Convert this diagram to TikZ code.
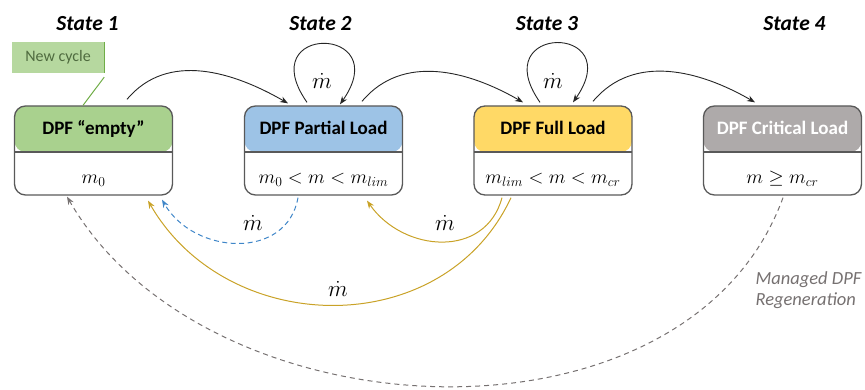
\RequirePackage{fix-cm}
\documentclass[tikz,border=0pt]{standalone}
\usepackage[no-math]{fontspec}
\setmainfont{Carlito}
\usetikzlibrary{arrows.meta}
\definecolor{hgreen}{HTML}{A9D18E}
\definecolor{hblue}{HTML}{9DC3E6}
\definecolor{hyellow}{HTML}{FFD966}
\definecolor{hgray}{HTML}{AEAAAA}
\definecolor{rim}{HTML}{595959}
\definecolor{gold}{HTML}{C9A227}
\definecolor{dblue}{HTML}{3F86C8}
\definecolor{dgray}{HTML}{767171}
\definecolor{cyctext}{HTML}{4F6B3F}
\definecolor{cycbar}{HTML}{70AD47}
\begin{document}
\begin{tikzpicture}[x=1pt, y=1pt,
    statebox/.style={draw=rim, line width=1.3pt, rounded corners=11pt,
      minimum width=158pt, minimum height=89pt,
      path picture={
        \fill[#1] (path picture bounding box.north west) rectangle ([yshift=-46pt]path picture bounding box.north east);
        \draw[rim, line width=1.3pt] ([yshift=-46pt]path picture bounding box.north west) -- ([yshift=-46pt]path picture bounding box.north east);}},
    headtext/.style={font=\fontsize{19}{22}\selectfont\bfseries, anchor=base},
    formula/.style={font=\fontsize{19.5}{22}\selectfont, anchor=base},
    statetitle/.style={font=\fontsize{21.5}{24}\selectfont\bfseries\itshape, anchor=base},
    mdot/.style={font=\fontsize{23}{26}\selectfont, inner sep=1pt},
    flow/.style={draw=black!85, line width=0.9pt, -{Stealth[length=8pt,width=6pt]}},
    back/.style={line width=1pt, -{Stealth[length=8pt,width=6pt]}}]
  \useasboundingbox (0,0) rectangle (865,390);
  % four states, pixel grid of the original, y up
  \node[statebox=hgreen] (s1) at (93.5,239.5) {};
  \node[statebox=hblue] (s2) at (323.5,239.5) {};
  \node[statebox=hyellow] (s3) at (553,239.5) {};
  \node[statebox=hgray] (s4) at (782.5,239.5) {};
  \node[headtext] (h1) at ([yshift=-29pt]s1.north) {DPF “empty”};
  \node[headtext] (h2) at ([yshift=-29pt]s2.north) {DPF Partial Load};
  \node[headtext] (h3) at ([yshift=-29pt]s3.north) {DPF Full Load};
  \node[headtext, text=white] (h4) at ([yshift=-29pt]s4.north) {DPF Critical Load};
  \node[formula] (f1) at ([yshift=12pt]s1.south) {$m_0$};
  \node[formula] (f2) at ([yshift=12pt]s2.south) {$m_0 < m < m_{lim}$};
  \node[formula] (f3) at ([yshift=12pt]s3.south) {$m_{lim} < m < m_{cr}$};
  \node[formula] (f4) at ([yshift=12pt]s4.south) {$m \geq m_{cr}$};
  \node[statetitle] (t1) at ([xshift=-6pt,yshift=75pt]s1.north) {State 1};
  \node[statetitle] (t2) at ([xshift=-3pt,yshift=75pt]s2.north) {State 2};
  \node[statetitle] (t3) at ([xshift=-6pt,yshift=75pt]s3.north) {State 3};
  \node[statetitle] (t4) at ([xshift=12pt,yshift=75pt]s4.north) {State 4};
  % callout
  \node[fill=hgreen!85, text=cyctext, font=\fontsize{16}{18}\selectfont,
    minimum width=92pt, minimum height=31pt] (cyc) at (58,332.5) {New cycle};
  \draw[cycbar, line width=1pt] (cyc.north east) -- (cyc.south east);
  \draw[cycbar, line width=1pt] ([yshift=-4pt]cyc.south east) -- ([xshift=-10.5pt]s1.north);
  % forward transitions
  \draw[flow] ([xshift=33.5pt,yshift=6pt]s1.north) to[out=50,in=150] ([xshift=-35.5pt,yshift=2pt]s2.north);
  \draw[flow] ([xshift=38.5pt,yshift=4pt]s2.north) to[out=50,in=150] ([xshift=-30pt,yshift=3pt]s3.north);
  \draw[flow] ([xshift=40pt,yshift=4pt]s3.north) to[out=50,in=150] ([xshift=-27.5pt,yshift=3pt]s4.north);
  \draw[flow] ([xshift=-16.5pt,yshift=3pt]s2.north) to[out=125,in=55,looseness=7.5] ([xshift=16.5pt,yshift=1pt]s2.north);
  \draw[flow] ([xshift=-13pt,yshift=3pt]s3.north) to[out=125,in=55,looseness=7.5] ([xshift=20pt,yshift=3pt]s3.north);
  \node[mdot] (l2) at ([xshift=-1.5pt,yshift=24pt]s2.north) {$\dot m$};
  \node[mdot] (l3) at ([xshift=0pt,yshift=24pt]s3.north) {$\dot m$};
  % way back
  \draw[back, dblue, dash pattern=on 5pt off 3.5pt] ([xshift=-25.5pt,yshift=-2pt]s2.south) to[out=260,in=300,looseness=1.2] ([xshift=68.5pt,yshift=-4pt]s1.south);
  \draw[back, gold] ([xshift=-51pt,yshift=-2pt]s3.south) to[out=255,in=305,looseness=1.2] ([xshift=43.5pt,yshift=-5pt]s2.south);
  \draw[back, gold] ([xshift=-42pt,yshift=-2pt]s3.south) to[out=245,in=300,looseness=1.12] ([xshift=54.5pt,yshift=-5pt]s1.south);
  \draw[back, dgray, dash pattern=on 5pt off 4pt] ([xshift=0.5pt,yshift=-2pt]s4.south) to[out=250,in=300] ([xshift=-26.5pt,yshift=-1pt]s1.south);
  \node[mdot] (lb) at (253,167) {$\dot m$};
  \node[mdot] (lg) at (445,167) {$\dot m$};
  \node[mdot] (lw) at (338,101) {$\dot m$};
  \node[anchor=north west, align=left, font=\fontsize{18.5}{21}\selectfont\itshape, text=dgray] (regen) at (752,122) {Managed DPF\\Regeneration};
\end{tikzpicture}
\end{document}
